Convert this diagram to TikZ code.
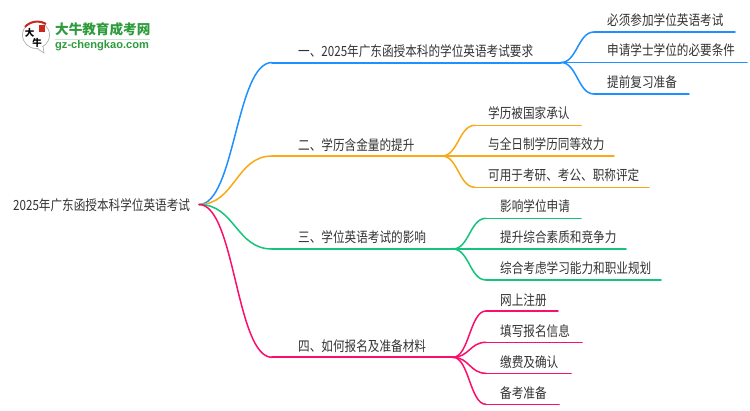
\documentclass[tikz,border=0pt]{standalone}
\usepackage{fontspec}
\setmainfont{Liberation Sans}
\newfontfamily\cjk[FakeStretch=0.83]{Noto Sans CJK SC}
\newfontfamily\cjklogo{Noto Sans CJK SC}
\definecolor{cblue}{HTML}{1E90FF}
\definecolor{corange}{HTML}{F9A916}
\definecolor{cgreen}{HTML}{14C47C}
\definecolor{cpink}{HTML}{FA0F6C}
\definecolor{ctext}{HTML}{333333}
\definecolor{lgreen}{HTML}{2E9B3C}
\definecolor{lred}{HTML}{C8281E}
\tikzset{
  x=1pt,y=-1pt,
  lab/.style={anchor=west,inner sep=0pt,text=ctext,font=\cjk\fontsize{14}{14}\selectfont},
  conn/.style={line width=1.5pt,line cap=round},
  stem/.style={line width=2pt,line cap=round},
  leaf/.style={line width=1.6pt,line cap=round},
}
\newcommand{\curve}[4]{\draw[#1] (#2) .. controls +(#4,0) and +(-#4,0) .. (#3);}
\begin{document}
\begin{tikzpicture}
\useasboundingbox (0,0) rectangle (750,410);
\fill[white] (0,0) rectangle (750,410);
% logo
\draw[line width=.7pt,gray!60] (36,35) circle (13.5);
\fill[white] (37,47) -- (44,53) -- (42,45) -- cycle;
\draw[line width=.7pt,gray!60] (37,48.5) -- (44,53) -- (43,46);
\draw[line width=2pt,lred] (25,27) .. controls (30,21) and (40,20) .. (46,24);
\fill[lred] (39,25) rectangle (45,32);
\node[inner sep=0pt,font=\cjklogo\fontsize{9.5}{10}\selectfont\bfseries] (lg1) at (29.5,32.5) {大};
\node[inner sep=0pt,font=\cjklogo\fontsize{9.5}{10}\selectfont\bfseries] (lg2) at (37,43) {牛};
\node[anchor=west,inner sep=0pt,text=lgreen,font=\cjklogo\fontsize{13.6}{14}\selectfont\bfseries] (lg3) at (55,29.5) {大牛教育成考网};
\draw[line width=.8pt,lgreen!25] (55,39) -- (150,39);
\node[anchor=west,inner sep=0pt,text=lgreen,font=\fontsize{11.1}{11}\selectfont\bfseries] (lg4) at (55,45.5) {gz-chengkao.com};
% coordinates
\coordinate (root) at (199,204.5);
\coordinate (s1) at (272,62.5); \coordinate (h1) at (561,62.5);
\coordinate (s2) at (272,156); \coordinate (h2) at (442,156);
\coordinate (s3) at (272,249); \coordinate (h3) at (453,249);
\coordinate (s4) at (272,357.3); \coordinate (h4) at (453,357.3);
% text
\node[lab] (root text) at (13,205) {2025年广东函授本科学位英语考试};
\node[lab] (t1) at (298,51) {一、2025年广东函授本科的学位英语考试要求};
\node[lab] (t2) at (298,145) {二、学历含金量的提升};
\node[lab] (t3) at (298,237) {三、学位英语考试的影响};
\node[lab] (t4) at (298,346) {四、如何报名及准备材料};
\node[lab] (t11) at (607,20) {必须参加学位英语考试};
\node[lab] (t12) at (607,50) {申请学士学位的必要条件};
\node[lab] (t13) at (607,82) {提前复习准备};
\node[lab] (t21) at (488,113) {学历被国家承认};
\node[lab] (t22) at (488,144) {与全日制学历同等效力};
\node[lab] (t23) at (488,175) {可用于考研、考公、职称评定};
\node[lab] (t31) at (500,206) {影响学位申请};
\node[lab] (t32) at (500,237) {提升综合素质和竞争力};
\node[lab] (t33) at (500,268) {综合考虑学习能力和职业规划};
\node[lab] (t41) at (500,300) {网上注册};
\node[lab] (t42) at (500,331) {填写报名信息};
\node[lab] (t43) at (500,362) {缴费及确认};
\node[lab] (t44) at (500,393) {备考准备};
% main branches
\curve{conn,cblue}{root}{s1}{36}
\curve{conn,corange}{root}{s2}{36}
\curve{conn,cgreen}{root}{s3}{36}
\curve{conn,cpink}{root}{s4}{36}
\draw[stem,cblue] (s1) -- (h1);
\draw[stem,corange] (s2) -- (h2);
\draw[stem,cgreen] (s3) -- (h3);
\draw[stem,cpink] (s4) -- (h4);
% children 1
\coordinate (c11) at (594,32); \coordinate (e11) at (735,32);
\coordinate (e12) at (747,62.5);
\coordinate (c13) at (594,94); \coordinate (e13) at (689,94);
\curve{conn,cblue}{h1}{c11}{16}
\curve{conn,cblue}{h1}{c13}{16}
\draw[leaf,cblue] (c11) -- (e11);
\draw[leaf,cblue] (h1) -- (e12);
\draw[leaf,cblue] (c13) -- (e13);
% children 2
\coordinate (c21) at (475,125.3); \coordinate (e21) at (581,125.3);
\coordinate (e22) at (614,156);
\coordinate (c23) at (475,187.3); \coordinate (e23) at (649,187.3);
\curve{conn,corange}{h2}{c21}{16}
\curve{conn,corange}{h2}{c23}{16}
\draw[leaf,corange] (c21) -- (e21);
\draw[leaf,corange] (h2) -- (e22);
\draw[leaf,corange] (c23) -- (e23);
% children 3
\coordinate (c31) at (486,218.3); \coordinate (e31) at (581,218.3);
\coordinate (e32) at (626,249);
\coordinate (c33) at (486,280); \coordinate (e33) at (661,280);
\curve{conn,cgreen}{h3}{c31}{16}
\curve{conn,cgreen}{h3}{c33}{16}
\draw[leaf,cgreen] (c31) -- (e31);
\draw[leaf,cgreen] (h3) -- (e32);
\draw[leaf,cgreen] (c33) -- (e33);
% children 4
\coordinate (c41) at (486,311); \coordinate (e41) at (558,311);
\coordinate (c42) at (486,342.3); \coordinate (e42) at (582,342.3);
\coordinate (c43) at (486,373.3); \coordinate (e43) at (571,373.3);
\coordinate (c44) at (486,404.3); \coordinate (e44) at (559,404.3);
\curve{conn,cpink}{h4}{c41}{16}
\curve{conn,cpink}{h4}{c42}{16}
\curve{conn,cpink}{h4}{c43}{16}
\curve{conn,cpink}{h4}{c44}{16}
\draw[leaf,cpink] (c41) -- (e41);
\draw[leaf,cpink] (c42) -- (e42);
\draw[leaf,cpink] (c43) -- (e43);
\draw[leaf,cpink] (c44) -- (e44);
\end{tikzpicture}
\end{document}
